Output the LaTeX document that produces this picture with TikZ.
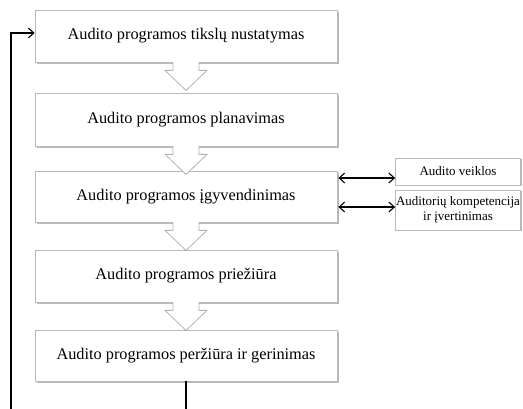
\documentclass[tikz,border=0pt]{standalone}
\usepackage{fontspec}
\setmainfont{Liberation Serif}
\usetikzlibrary{arrows.meta,shadows}
\begin{document}
\begin{tikzpicture}[x=1pt,y=-1pt,
  mainbox/.style={draw=gray!55, line width=0.8pt, fill=white, minimum width=302pt,
    inner sep=0pt, font=\fontsize{16.3}{18}\selectfont,
    drop shadow={shadow xshift=1.6pt, shadow yshift=-1.6pt, fill=gray!55, opacity=1}},
  sidebox/.style={draw=gray!55, line width=0.8pt, fill=white, minimum width=125pt,
    inner sep=0pt, align=center, font=\fontsize{13}{14.5}\selectfont,
    drop shadow={shadow xshift=1.4pt, shadow yshift=-1.4pt, fill=gray!55, opacity=1}},
  conn/.style={line width=1.1pt, black},
  tip/.tip={Straight Barb[length=5.5pt,width=10pt,line width=1.1pt]},
  downarrow/.pic={\draw[gray!60, fill=white, line width=0.8pt, line join=miter]
     (-13,-0.5) -- (-13,8) -- (-21,8) -- (0,28) -- (21,8) -- (13,8) -- (13,-0.5);}
]
\useasboundingbox (0,0) rectangle (523,409);

\node[mainbox, minimum height=52pt] (b1) at (186,36) {Audito programos tikslų nustatymas};
\node[mainbox, minimum height=53pt] (b2) at (186,119.5) {Audito programos planavimas};
\node[mainbox, minimum height=51pt] (b3) at (186,196.5) {Audito programos įgyvendinimas};
\node[mainbox, minimum height=52pt] (b4) at (186,276) {Audito programos priežiūra};
\node[mainbox, minimum height=51pt] (b5) at (186,355.5) {Audito programos peržiūra ir gerinimas};

\node[sidebox, minimum height=27pt] (sa) at (458,171.5) {Audito veiklos};
\node[sidebox, minimum height=40pt] (sb) at (458,210) {Auditorių kompetencija\\ir įvertinimas};

\pic at (b1.south) {downarrow};
\pic at (b2.south) {downarrow};
\pic at (b3.south) {downarrow};
\pic at (b4.south) {downarrow};

\draw[conn, tip-tip] ([xshift=1pt, yshift=18.5pt]b3.east) -- ([yshift=-6.5pt]sa.west);
\draw[conn, tip-tip] ([xshift=1pt, yshift=-10.5pt]b3.east) -- ([yshift=3pt]sb.west);

\coordinate (c1) at (186,420);
\coordinate (c2) at (11,420);
\draw[conn, -tip] (b5.south) -- (c1) -- (c2) |- ([yshift=3pt]b1.west);
\end{tikzpicture}
\end{document}
